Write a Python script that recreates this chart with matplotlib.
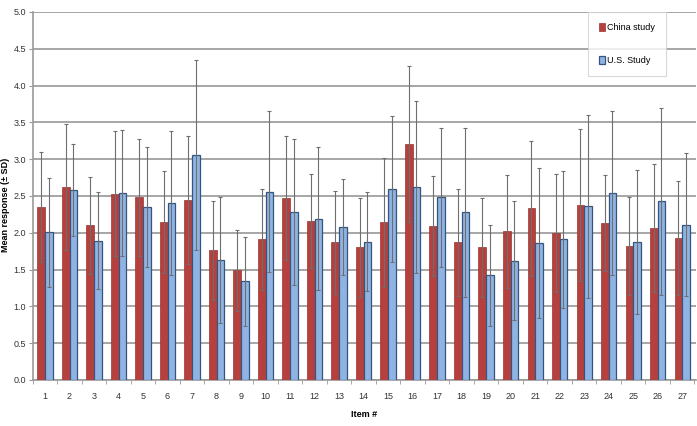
import matplotlib.pyplot as plt
import numpy as np

plt.rcParams['font.family'] = ['Liberation Sans', 'DejaVu Sans']

items = [str(i) for i in range(1, 28)]
china_mean = [2.35, 2.62, 2.10, 2.53, 2.48, 2.15, 2.45, 1.76, 1.49, 1.91, 2.47, 2.16, 1.87, 1.80,
              2.14, 3.20, 2.09, 1.87, 1.80, 2.02, 2.33, 2.00, 2.38, 2.13, 1.82, 2.07, 1.93]
china_sd = [0.75, 0.86, 0.66, 0.85, 0.80, 0.69, 0.87, 0.67, 0.55, 0.69, 0.84, 0.64, 0.70, 0.67,
            0.88, 1.06, 0.68, 0.73, 0.67, 0.77, 0.92, 0.80, 1.03, 0.65, 0.67, 0.87, 0.77]
us_mean = [2.01, 2.58, 1.89, 2.54, 2.35, 2.40, 3.06, 1.63, 1.34, 2.56, 2.28, 2.19, 2.08, 1.88,
           2.59, 2.62, 2.48, 2.28, 1.42, 1.62, 1.86, 1.91, 2.36, 2.54, 1.87, 2.43, 2.11]
us_sd = [0.74, 0.62, 0.66, 0.85, 0.81, 0.98, 1.29, 0.85, 0.60, 1.09, 0.99, 0.97, 0.65, 0.67,
         0.99, 1.17, 0.95, 1.15, 0.68, 0.81, 1.02, 0.93, 1.24, 1.12, 0.98, 1.27, 0.97]

fig = plt.figure(figsize=(6.97, 4.26), dpi=100)
ax = fig.add_axes([0.047, 0.108, 0.951, 0.864])

x = np.arange(len(items))
w = 0.31
err_kw = dict(ecolor="#6e6e6e", elinewidth=0.8, capsize=1.2, capthick=0.8)
ax.bar(x - w / 2, china_mean, w, yerr=china_sd, color="#b5403d", edgecolor="#9a3431",
       linewidth=0.5, error_kw=err_kw, label="China study", zorder=3)
ax.bar(x + w / 2, us_mean, w, yerr=us_sd, color="#8fb4e3", edgecolor="#35557f",
       linewidth=0.9, error_kw=err_kw, label="U.S. Study", zorder=3)

ax.set_ylim(0, 5)
ax.set_xlim(-0.5, len(items) - 0.45)
ax.set_yticks(np.arange(0, 5.01, 0.5))
ax.set_yticklabels(["%.1f" % v for v in np.arange(0, 5.01, 0.5)], fontsize=6.5, color="#333333")
ax.set_xticks(x)
ax.set_xticklabels(items, fontsize=6.5, color="#333333")
ax.set_xticks(np.arange(-0.5, len(items), 1), minor=True)
ax.tick_params(axis="x", which="major", length=0, pad=9)
ax.tick_params(axis="x", which="minor", length=3, color="#999999")
ax.tick_params(axis="y", length=3, color="#999999", pad=2)
ax.grid(axis="y", color="#a6a6a6", linewidth=1.4, zorder=0)
for s in ["top", "right"]:
    ax.spines[s].set_visible(False)
for s in ["left", "bottom"]:
    ax.spines[s].set_color("#999999")
    ax.spines[s].set_linewidth(1.2)

ax.set_xlabel("Item #", fontsize=6.5, fontweight="bold", labelpad=6)
fig.text(0.008, 0.52, "Mean response (\u00b1 SD)", rotation=90, fontsize=6.5,
         fontweight="bold", ha="center", va="center")

leg = ax.legend(loc="upper right", bbox_to_anchor=(0.955, 1.0), fontsize=6.5, frameon=True,
                fancybox=False, shadow=False, labelspacing=2.6, handlelength=0.7,
                handleheight=1.1, handletextpad=0.2, borderpad=1.2, borderaxespad=0)
leg.get_frame().set_edgecolor("#d0d0d0")
leg.get_frame().set_linewidth(0.8)

fig.savefig("out.png", dpi=100)
